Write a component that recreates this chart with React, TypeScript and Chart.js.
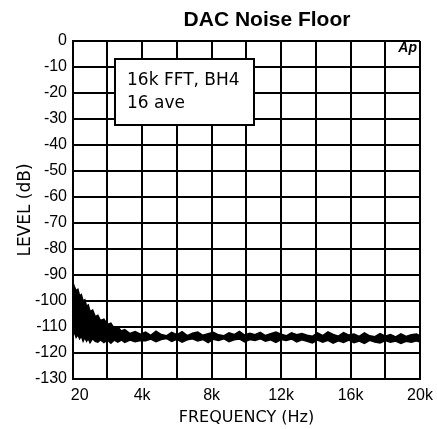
import React, { useEffect, useRef } from "react";
import { Chart, registerables } from "chart.js";

Chart.register(...registerables);

const chartTitle = "DAC Noise Floor";
const xAxisTitle = "FREQUENCY (Hz)";
const yAxisTitle = "LEVEL (dB)";
const noteLines = ["16k FFT, BH4", "16 ave"];
const logoText = "Ap";

const xTickValues = [20, 2000, 4000, 6000, 8000, 10000, 12000, 14000, 16000, 18000, 20000];
const xTickLabels = ["\u2007 20", "", "4k", "", "8k", "", "12k", "", "16k", "", "20k"];
const yTickValues = [0, -10, -20, -30, -40, -50, -60, -70, -80, -90, -100, -110, -120, -130];
const yTickLabels = ["0", "-10", "-20", "-30", "-40", "-50", "-60", "-70", "-80", "-90", "-100", "-110", "-120", "-130"];

const freqHz = [
  20, 100, 200, 300, 400, 500, 600, 700, 800, 900, 1000, 1150, 1300, 1450, 1600, 1800, 2000, 2200, 2400, 2600,
  2800, 3000, 3300, 3600, 3900,
  4200, 4500, 4800, 5100, 5400, 5700, 6000, 6300, 6600, 6900, 7200, 7500, 7800, 8100, 8400, 8700, 9000, 9300,
  9600, 9900, 10200, 10500, 10800, 11100, 11400, 11700, 12000, 12300, 12600, 12900, 13200, 13500, 13800, 14100,
  14400, 14700, 15000, 15300, 15600, 15900, 16200, 16500, 16800, 17100, 17400, 17700, 18000, 18300, 18600,
  18900, 19200, 19500, 19800, 20000,
];

const levelUpper = [
  -93, -94.5, -96, -95.5, -98, -97.5, -100, -99.5, -102, -101.5, -104, -103.5, -106, -105.5, -107.5, -107, -109,
  -108.5, -110.5, -110, -111.5, -111, -112.5, -111.8, -112.8,
  -112.0, -113.2, -111.6, -112.9, -113.4, -112.1, -113.0, -111.8, -113.3, -112.4, -111.9, -113.2, -112.6, -112.0,
  -113.0, -113.4, -112.2, -112.9, -111.7, -113.1, -112.4, -113.0, -112.1, -113.3, -112.6, -111.9, -112.8, -113.4,
  -112.2, -113.0, -112.5, -113.2, -113.6, -112.3, -113.3, -111.9, -112.9, -113.5, -112.2, -113.1, -112.7, -113.6,
  -112.3, -113.4, -113.7, -112.5, -113.5, -112.9, -113.8, -112.6, -113.6, -113.0, -112.7, -113.4,
];

const levelLower = [
  -113, -112, -114, -113, -114.5, -113.5, -115.5, -114, -115.5, -114.5, -116, -114.5, -115.5, -115.8, -115, -116,
  -115, -116.2, -115, -115.8, -115, -115.9, -115, -115.7, -115.2,
  -115.3, -114.6, -115.6, -114.8, -114.4, -115.5, -114.7, -115.8, -114.9, -114.5, -115.4, -114.8, -116.0, -114.7,
  -115.2, -114.5, -115.6, -114.9, -114.6, -115.7, -114.8, -115.2, -114.5, -115.5, -114.9, -115.9, -114.8, -115.2,
  -114.6, -115.7, -114.9, -115.5, -116.1, -115.0, -115.8, -115.1, -116.2, -115.3, -115.9, -115.0, -116.0, -115.4,
  -116.3, -115.1, -115.8, -116.1, -115.2, -115.9, -115.4, -116.3, -115.5, -115.9, -115.3, -115.8,
];

const overlayPlugin = {
  id: "overlay",
  afterDraw(chart: any) {
    const ctx = chart.ctx as CanvasRenderingContext2D;
    const area = chart.chartArea;
    ctx.save();
    ctx.fillStyle = "#000";
    ctx.font = "bold 21px 'Liberation Sans', Arial, sans-serif";
    ctx.textAlign = "center";
    ctx.textBaseline = "alphabetic";
    ctx.fillText(chartTitle, 267, 26);
    ctx.font = "italic bold 14px 'Liberation Sans', Arial, sans-serif";
    ctx.textAlign = "right";
    ctx.fillText(logoText, area.right - 3, area.top + 11);
    const bx = 115, by = 59, bw = 139, bh = 66;
    ctx.fillStyle = "#fff";
    ctx.fillRect(bx, by, bw, bh);
    ctx.strokeStyle = "#000";
    ctx.lineWidth = 2;
    ctx.strokeRect(bx, by, bw, bh);
    ctx.fillStyle = "#000";
    ctx.font = "17px 'DejaVu Sans', sans-serif";
    ctx.textAlign = "left";
    ctx.fillText(noteLines[0], bx + 12, by + 26);
    ctx.fillText(noteLines[1], bx + 12, by + 49);
    ctx.restore();
  },
};

export default function App() {
  const canvasRef = useRef<HTMLCanvasElement | null>(null);

  useEffect(() => {
    document.body.style.margin = "0";
    const canvas = canvasRef.current;
    if (!canvas) return;
    const upper = freqHz.map((f, i) => ({ x: f, y: levelUpper[i] }));
    const lower = freqHz.map((f, i) => ({ x: f, y: levelLower[i] }));
    const chart = new Chart(canvas, {
      type: "line",
      data: {
        datasets: [
          {
            data: upper,
            borderColor: "#000",
            backgroundColor: "#000",
            borderWidth: 1.5,
            pointRadius: 0,
            tension: 0,
            fill: "+1",
          },
          {
            data: lower,
            borderColor: "#000",
            backgroundColor: "#000",
            borderWidth: 1.5,
            pointRadius: 0,
            tension: 0,
            fill: false,
          },
        ],
      },
      options: {
        animation: false,
        responsive: true,
        maintainAspectRatio: false,
        layout: { padding: { top: 41, right: 17, left: 0, bottom: 0 } },
        plugins: {
          legend: { display: false },
          title: { display: false },
          tooltip: { enabled: false },
        },
        scales: {
          x: {
            type: "linear",
            min: 20,
            max: 20000,
            afterBuildTicks: (scale: any) => {
              scale.ticks = xTickValues.map((v) => ({ value: v }));
            },
            afterFit: (scale: any) => {
              scale.height = 50;
              scale.paddingLeft = 0;
              scale.paddingRight = 0;
            },
            grid: { color: "#000", lineWidth: 2, drawTicks: false },
            border: { display: true, color: "#000", width: 2 },
            ticks: {
              color: "#000",
              autoSkip: false,
              maxRotation: 0,
              padding: 7,
              font: { family: "'Liberation Sans', Arial, sans-serif", size: 16 },
              callback: (value: any) => {
                const idx = xTickValues.indexOf(Number(value));
                return idx >= 0 ? xTickLabels[idx] : "";
              },
            },
            title: {
              display: true,
              text: xAxisTitle,
              color: "#000",
              font: { family: "'DejaVu Sans', sans-serif", size: 16 },
              padding: { top: 0, bottom: 2 },
            },
          },
          y: {
            type: "linear",
            min: -130,
            max: 0,
            afterBuildTicks: (scale: any) => {
              scale.ticks = yTickValues.map((v) => ({ value: v }));
            },
            afterFit: (scale: any) => {
              scale.width = 73;
            },
            grid: { color: "#000", lineWidth: 2, drawTicks: false },
            border: { display: true, color: "#000", width: 2 },
            ticks: {
              color: "#000",
              autoSkip: false,
              padding: 6,
              font: { family: "'Liberation Sans', Arial, sans-serif", size: 16 },
              callback: (value: any) => {
                const idx = yTickValues.indexOf(Number(value));
                return idx >= 0 ? yTickLabels[idx] : "";
              },
            },
            title: {
              display: true,
              text: yAxisTitle,
              color: "#000",
              font: { family: "'DejaVu Sans', sans-serif", size: 17 },
              padding: { top: 15, bottom: 0 },
            },
          },
        },
      },
      plugins: [overlayPlugin],
    });
    return () => chart.destroy();
  }, []);

  return (
    <div style={{ width: 437, height: 429, position: "relative" }}>
      <canvas ref={canvasRef} />
    </div>
  );
}
